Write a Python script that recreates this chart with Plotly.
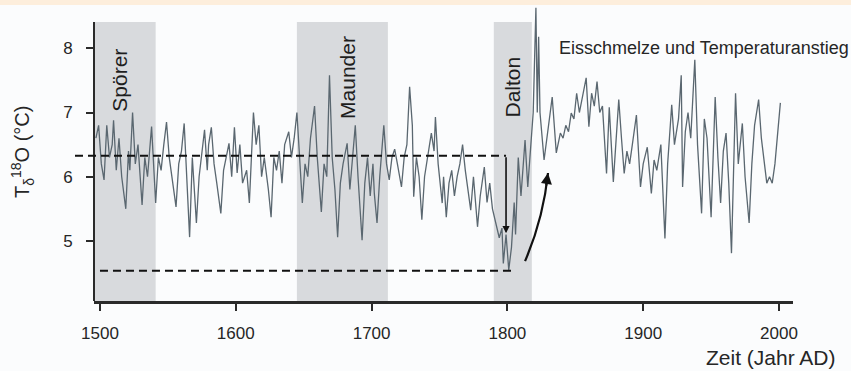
import plotly.graph_objects as go

# ---------------- data ----------------
years = [1497, 1499, 1501, 1503, 1505, 1507, 1509, 1510, 1512, 1514, 1516, 1519, 1521, 1522,
         1524, 1526, 1528, 1531, 1533, 1535, 1538, 1540, 1541, 1543, 1545, 1547, 1549, 1551,
         1553, 1556, 1558, 1560, 1562, 1564, 1566, 1568, 1571, 1573, 1575, 1577, 1579, 1580,
         1582, 1584, 1586, 1589, 1591, 1593, 1595, 1597, 1599, 1601, 1603, 1605, 1608, 1610,
         1613, 1615, 1617, 1619, 1621, 1624, 1626, 1628, 1630, 1632, 1634, 1636, 1639, 1641,
         1643, 1645, 1647, 1649, 1651, 1653, 1655, 1658, 1660, 1663, 1665, 1667, 1669, 1671,
         1673, 1675, 1677, 1679, 1682, 1684, 1686, 1688, 1690, 1693, 1695, 1697, 1699, 1701,
         1702, 1704, 1706, 1709, 1711, 1713, 1715, 1717, 1719, 1722, 1724, 1726, 1728, 1730,
         1731, 1733, 1735, 1737, 1739, 1741, 1744, 1746, 1747, 1749, 1752, 1753, 1755, 1757,
         1759, 1761, 1763, 1765, 1767, 1769, 1771, 1773, 1775, 1778, 1780, 1783, 1785, 1787,
         1789, 1792, 1794, 1796, 1797, 1799, 1801, 1803, 1805, 1806, 1808, 1810, 1813, 1815,
         1817, 1819, 1821, 1822, 1823, 1824, 1827, 1830, 1833, 1836, 1839, 1841, 1843, 1845,
         1847, 1849, 1851, 1853, 1855, 1858, 1860, 1862, 1864, 1866, 1868, 1870, 1873, 1875,
         1878, 1880, 1882, 1884, 1886, 1888, 1890, 1892, 1895, 1898, 1900, 1903, 1906, 1908,
         1910, 1913, 1916, 1918, 1921, 1923, 1926, 1928, 1929, 1931, 1933, 1935, 1938, 1940,
         1943, 1945, 1947, 1950, 1953, 1955, 1957, 1959, 1961, 1963, 1965, 1968, 1970, 1973,
         1975, 1978, 1980, 1982, 1985, 1987, 1989, 1991, 1993, 1995, 1997, 1999, 2001]

temps = [6.6, 6.8, 6.2, 5.95, 6.8, 6.3, 6.5, 6.88, 6.1, 6.6, 6.0, 5.5, 6.4, 6.1,
         7.0, 6.2, 6.5, 5.56, 6.3, 6.0, 6.78, 6.0, 5.59, 6.3, 6.1, 6.5, 6.85, 6.3,
         6.0, 5.53, 6.2, 6.4, 6.83, 6.0, 5.06, 6.3, 5.28, 6.0, 6.4, 6.73, 6.1, 6.5,
         6.77, 6.2, 5.9, 5.43, 6.1, 6.3, 6.52, 6.0, 6.77, 6.06, 6.5, 5.9, 6.1, 5.59,
         7.0, 6.5, 6.8, 6.0, 6.3, 5.8, 5.37, 6.3, 6.1, 6.4, 5.9, 6.5, 6.7, 6.3,
         6.6, 7.0, 6.2, 5.59, 6.2, 6.0, 6.6, 7.1, 6.3, 5.45, 6.2, 6.0, 7.58, 6.3,
         5.8, 5.06, 5.9, 6.2, 6.52, 5.8, 6.3, 6.8, 6.0, 5.01, 5.9, 6.3, 5.7, 6.2,
         5.74, 5.28, 6.0, 6.8, 6.2, 5.95, 6.3, 6.43, 6.2, 5.84, 6.3, 6.5, 7.4, 6.8,
         5.69, 6.3, 6.0, 5.33, 6.0, 6.3, 6.68, 6.4, 6.93, 6.2, 5.59, 6.0, 5.37, 5.9,
         6.1, 5.7, 6.0, 6.2, 6.5, 6.1, 5.8, 5.48, 6.0, 5.22, 5.7, 6.15, 5.6, 5.9,
         5.5, 5.22, 5.05, 5.2, 4.65, 5.1, 4.55, 4.9, 5.6, 5.1, 6.3, 5.7, 6.57, 5.84,
         6.5, 7.0, 8.63, 7.0, 8.18, 7.0, 6.26, 6.8, 7.24, 6.37, 6.68, 6.6, 6.8, 6.7,
         6.99, 6.9, 7.3, 7.0, 7.2, 7.54, 6.78, 7.3, 7.1, 7.48, 7.0, 7.1, 6.05, 7.08,
         5.92, 6.5, 7.2, 6.6, 6.05, 6.4, 6.2, 6.5, 6.96, 5.84, 6.2, 6.46, 5.74, 6.26,
         6.1, 6.5, 5.04, 6.2, 7.12, 6.5, 6.9, 7.58, 5.84, 6.7, 7.0, 6.6, 7.82, 6.5,
         5.43, 6.9, 6.6, 5.37, 7.24, 6.3, 5.59, 6.4, 6.68, 5.9, 4.81, 7.3, 6.2, 6.83,
         6.0, 5.28, 6.2, 6.8, 7.2, 6.6, 6.2, 5.9, 6.0, 5.9, 6.2, 6.7, 7.15]

band_names = ["Spörer", "Maunder", "Dalton"]
band_start = [1450, 1645, 1790]
band_end = [1541, 1712, 1818]
band_label_year = [1514.7, 1681.7, 1803.4]
band_label_value = [7.51, 7.55, 7.39]

x_ticks = [1500, 1600, 1700, 1800, 1900, 2000]
y_ticks = [5, 6, 7, 8]

mean_level = 6.327          # upper dashed line
dalton_min_level = 4.536    # lower dashed line
drop_year = 1799
drop_end_value = 5.12

melt_text = "Eisschmelze und Temperaturanstieg"
melt_text_year = 1836.5
melt_text_value = 8.0

# ---------------- geometry ----------------
W, H = 851, 371
M_L, M_R, M_T, M_B = 94, 58, 5, 70
X_RANGE = [1495.6, 2010.3]
Y_RANGE = [4.065, 8.674]
AXIS_TOP = 8.41
PLOT_W = W - M_L - M_R
PLOT_H = H - M_T - M_B


def xp(year):
    return (year - X_RANGE[0]) / (X_RANGE[1] - X_RANGE[0])


def yp(val):
    return (val - Y_RANGE[0]) / (Y_RANGE[1] - Y_RANGE[0])


BG = "#fbfcfd"
BAND = "#d8dadd"
INK = "#2a2a2a"
LINE = "#5a6770"
TXT = "#262626"
FONT = "Liberation Sans, Arial, sans-serif"

fig = go.Figure()

fig.add_trace(go.Scatter(x=years, y=temps, mode="lines",
                         line=dict(color=LINE, width=1.3), hoverinfo="skip",
                         showlegend=False))

shapes = []
# cream strip at very top
shapes.append(dict(type="rect", xref="paper", yref="paper",
                   x0=-M_L / PLOT_W - 0.01, x1=1 + M_R / PLOT_W + 0.01,
                   y0=1.0, y1=1 + M_T / PLOT_H + 0.01,
                   fillcolor="#fdeedc", line=dict(width=0), layer="below"))
# minimum bands
for s, e in zip(band_start, band_end):
    shapes.append(dict(type="rect", xref="x", yref="paper", x0=s, x1=e,
                       y0=0, y1=yp(AXIS_TOP), fillcolor=BAND,
                       line=dict(width=0), layer="below"))
# y axis line (stops below the top of plotting area)
shapes.append(dict(type="line", xref="paper", yref="y", x0=0, x1=0,
                   y0=Y_RANGE[0], y1=AXIS_TOP, line=dict(color=INK, width=2)))
# dashed reference lines
shapes.append(dict(type="line", xref="paper", yref="y",
                   x0=-19 / PLOT_W, x1=xp(drop_year), y0=mean_level, y1=mean_level,
                   line=dict(color="#111", width=2, dash="8px,5px")))
shapes.append(dict(type="line", xref="x", yref="y",
                   x0=1500, x1=1805.6, y0=dalton_min_level, y1=dalton_min_level,
                   line=dict(color="#111", width=2, dash="8px,5px")))
# curved recovery arrow
p0 = (1813.0, 4.686)
pc = (1826.5, 5.35)
p2 = (1829.9, 6.058)
shapes.append(dict(type="path", xref="x", yref="y",
                   path=f"M {p0[0]},{p0[1]} Q {pc[0]},{pc[1]} {p2[0]},{p2[1]}",
                   line=dict(color="#111", width=2.2)))

annotations = []
for name, yx, yv in zip(band_names, band_label_year, band_label_value):
    annotations.append(dict(x=yx, y=yv, xref="x", yref="y", text=name,
                            textangle=-90, showarrow=False,
                            font=dict(size=21, color="#1e1e1e", family=FONT)))
annotations.append(dict(x=melt_text_year, y=melt_text_value, xref="x", yref="y",
                        text=melt_text, xanchor="left", yanchor="middle",
                        showarrow=False, font=dict(size=18, color=TXT, family=FONT)))
# drop arrow
annotations.append(dict(x=drop_year, y=drop_end_value, xref="x", yref="y",
                        ax=drop_year, ay=mean_level, axref="x", ayref="y",
                        text="", showarrow=True, arrowhead=2, arrowsize=0.9,
                        arrowwidth=1.6, arrowcolor="#111"))
# head of curved arrow
annotations.append(dict(x=p2[0], y=p2[1], xref="x", yref="y", ax=-2, ay=14,
                        text="", showarrow=True, arrowhead=2, arrowsize=1,
                        arrowwidth=2.2, arrowcolor="#111"))
# axis titles
annotations.append(dict(x=(838 - M_L) / PLOT_W, y=(H - M_B - 357) / PLOT_H,
                        xref="paper", yref="paper", text="Zeit (Jahr AD)",
                        xanchor="right", yanchor="middle", showarrow=False,
                        font=dict(size=21, color=TXT, family=FONT)))
annotations.append(dict(x=(22 - M_L) / PLOT_W, y=(H - M_B - 152) / PLOT_H,
                        xref="paper", yref="paper",
                        text="T<sub>δ</sub><sup>18</sup>O (°C)", textangle=-90,
                        xanchor="center", yanchor="middle", showarrow=False,
                        font=dict(size=20, color=TXT, family=FONT)))

fig.update_layout(
    width=W, height=H, autosize=False,
    margin=dict(l=M_L, r=M_R, t=M_T, b=M_B, pad=0),
    paper_bgcolor=BG, plot_bgcolor=BG,
    shapes=shapes, annotations=annotations,
    font=dict(family=FONT, color=TXT),
    xaxis=dict(range=X_RANGE, tickvals=x_ticks, ticks="outside", ticklen=7,
               tickwidth=2, tickcolor=INK, showline=True, linewidth=3,
               linecolor=INK, showgrid=False, zeroline=False,
               tickfont=dict(size=17, color=TXT), ticklabelstandoff=8),
    yaxis=dict(range=Y_RANGE, tickvals=y_ticks, ticks="outside", ticklen=7,
               tickwidth=2, tickcolor=INK, showline=False, showgrid=False,
               zeroline=False, tickfont=dict(size=17, color=TXT),
               ticklabelstandoff=10),
)

fig.write_html("out.html")
